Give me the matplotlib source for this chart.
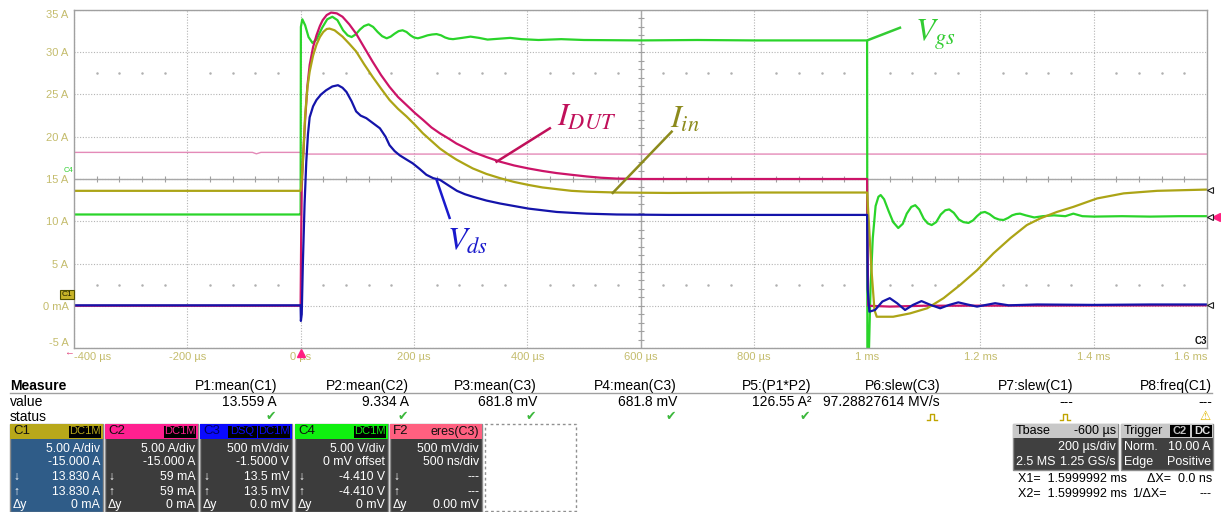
import matplotlib
matplotlib.use('Agg')
import matplotlib.pyplot as plt
from matplotlib.patches import Rectangle
from matplotlib.lines import Line2D
import numpy as np

# --- scope traces (time in us, vertical in screen units of the 5 A/div grid) ---
t_vgs = [-400, -2, 0, 0.5, 3, 8, 14, 21, 28, 38, 47, 56, 65, 75, 83, 90, 97, 105, 112,
         120, 128, 136, 144, 152, 159, 166, 173, 180, 187, 194, 200, 207, 215, 224, 232,
         240, 248, 255, 262, 269, 285, 300, 315, 330, 350, 370, 390, 420, 460, 500, 600,
         700, 800, 900, 1000, 1000.5, 1003, 1006, 1010, 1015, 1020, 1024, 1030, 1038,
         1046, 1055, 1063, 1070, 1078, 1085, 1092, 1100, 1107, 1114, 1122, 1130, 1138,
         1145, 1153, 1162, 1170, 1179, 1187, 1194, 1201, 1208, 1216, 1225, 1233, 1241,
         1249, 1256, 1263, 1270, 1280, 1295, 1310, 1330, 1350, 1364, 1380, 1400, 1450,
         1500, 1550, 1600]
v_vgs = [10.8, 10.8, 10.8, 33.0, 33.9, 33.2, 31.8, 31.1, 31.5, 32.9, 33.9, 34.2, 33.8,
         32.6, 32.0, 31.8, 32.1, 32.7, 33.1, 33.3, 33.0, 32.4, 31.9, 31.65, 31.85, 32.2,
         32.5, 32.6, 32.4, 32.0, 31.75, 31.65, 31.8, 32.0, 32.1, 32.15, 32.0, 31.75, 31.6,
         31.55, 31.7, 31.85, 31.7, 31.5, 31.6, 31.7, 31.55, 31.45, 31.55, 31.45, 31.4,
         31.45, 31.4, 31.4, 31.4, -6.0, -6.0, 2.0, 8.0, 11.8, 12.9, 13.1, 12.6, 11.2, 9.9,
         9.2, 9.7, 10.9, 11.7, 11.9, 11.4, 10.3, 9.75, 9.55, 9.9, 10.8, 11.3, 11.4, 11.0,
         10.2, 9.9, 9.8, 10.1, 10.6, 11.0, 11.1, 10.85, 10.4, 10.2, 10.15, 10.4, 10.7,
         10.85, 10.9, 10.7, 10.45, 10.6, 10.7, 10.6, 10.9, 10.6, 10.55, 10.6, 10.55, 10.6,
         10.6]

t_idut = [-400, 0, 1, 2, 4, 8, 12, 16, 22, 28, 34, 39, 46, 54, 64, 74, 86, 98, 112, 127,
          142, 157, 172, 187, 202, 216, 231, 246, 261, 275, 290, 304, 328, 352, 377, 402,
          427, 452, 478, 505, 530, 558, 600, 700, 800, 1000, 1001, 1002, 1040, 1100, 1600]
v_idut = [0.0, 0.0, 8.0, 14.0, 17.0, 22.0, 26.0, 28.5, 30.6, 32.0, 33.1, 33.8, 34.4, 34.7,
          34.6, 34.2, 33.3, 32.2, 30.6, 28.9, 27.3, 25.9, 24.7, 23.75, 22.8, 22.0, 21.1,
          20.4, 19.8, 19.2, 18.7, 18.2, 17.6, 17.05, 16.6, 16.25, 15.95, 15.7, 15.5, 15.3,
          15.15, 15.05, 15.0, 15.0, 15.0, 15.0, 6.0, 0.0, -0.1, 0.0, 0.05]

t_iin = [-400, 0, 1, 2, 4, 8, 12, 16, 22, 28, 34, 40, 46, 51, 60, 74, 86, 98, 112, 127,
         142, 157, 172, 187, 202, 216, 231, 246, 261, 275, 290, 304, 328, 352, 377, 402,
         427, 452, 478, 505, 558, 650, 800, 1000, 1003, 1008, 1013, 1017, 1046, 1076,
         1106, 1135, 1164, 1194, 1223, 1253, 1282, 1306, 1335, 1364, 1406, 1453, 1512, 1600]
v_iin = [13.6, 13.6, 14.0, 15.0, 17.0, 22.5, 25.8, 27.7, 29.6, 30.9, 31.8, 32.4, 32.75,
         32.8, 32.6, 31.85, 31.0, 30.1, 28.6, 27.1, 25.7, 24.35, 23.3, 22.4, 21.4, 20.4,
         19.5, 18.6, 17.9, 17.3, 16.75, 16.25, 15.6, 15.1, 14.65, 14.3, 14.0, 13.8, 13.6,
         13.5, 13.4, 13.35, 13.4, 13.4, 10.0, 4.0, -0.5, -1.3, -1.3, -0.9, -0.3, 0.9, 2.45,
         4.2, 6.2, 8.0, 9.55, 10.35, 11.1, 11.7, 12.7, 13.3, 13.6, 13.75]

t_vds = [-400, 0, 0.5, 2, 4, 7, 10, 13, 16, 22, 28, 36, 45, 56, 66, 74, 81, 90, 98, 106,
         116, 128, 140, 150, 157, 166, 175, 187, 198, 210, 222, 234, 246, 262, 276, 290,
         304, 328, 352, 377, 402, 427, 452, 478, 505, 558, 650, 800, 1000, 1001, 1004,
         1014, 1027, 1040, 1053, 1067, 1081, 1096, 1112, 1129, 1145, 1161, 1177, 1194,
         1210, 1226, 1250, 1300, 1400, 1500, 1600]
v_vds = [0.05, 0.05, -1.8, -1.0, 5.0, 12.0, 17.0, 20.3, 22.3, 23.6, 24.35, 25.0, 25.5,
         25.95, 26.1, 25.8, 25.3, 24.2, 23.0, 22.5, 22.2, 21.6, 21.0, 20.0, 19.0, 18.3,
         17.8, 17.3, 16.85, 16.2, 15.5, 15.1, 14.9, 14.2, 13.6, 13.2, 12.9, 12.45, 12.1,
         11.8, 11.5, 11.3, 11.1, 11.0, 10.9, 10.8, 10.75, 10.75, 10.75, 2.0, -0.7, -0.5,
         0.5, 0.9, 0.3, -0.5, 0.1, 0.55, 0.1, -0.3, 0.1, 0.4, 0.15, -0.1, 0.1, 0.3, 0.05,
         0.15, 0.1, 0.15, 0.15]

t_ref = [-400, -85, -78, -70, 0, 10, 1600]
v_ref = [18.15, 18.15, 17.98, 18.15, 18.15, 17.95, 17.95]

y_ticks = [-5, 0, 5, 10, 15, 20, 25, 30, 35]
y_labels = ['-5 A', '0 mA', '5 A', '10 A', '15 A', '20 A', '25 A', '30 A', '35 A']
x_ticks = [-400, -200, 0, 200, 400, 600, 800, 1000, 1200, 1400, 1600]
x_labels = ['-400 µs', '-200 µs', '0 µs', '200 µs', '400 µs', '600 µs', '800 µs',
            '1 ms', '1.2 ms', '1.4 ms', '1.6 ms']

# --- measurement table ---
meas_names = ['P1:mean(C1)', 'P2:mean(C2)', 'P3:mean(C3)', 'P4:mean(C3)',
              'P5:(P1*P2)', 'P6:slew(C3)', 'P7:slew(C1)', 'P8:freq(C1)']
meas_values = ['13.559 A', '9.334 A', '681.8 mV', '681.8 mV', '126.55 A²',
               '97.28827614 MV/s', '---', '---']
meas_status = ['ok', 'ok', 'ok', 'ok', 'ok', 'pulse', 'pulse', 'warn']

ch_names = ['C1', 'C2', 'C3', 'C4']
ch_rows = [['5.00 A/div', '-15.000 A', '13.830 A', '13.830 A', '0 mA'],
           ['5.00 A/div', '-15.000 A', '59 mA', '59 mA', '0 mA'],
           ['500 mV/div', '-1.5000 V', '13.5 mV', '13.5 mV', '0.0 mV'],
           ['5.00 V/div', '0 mV offset', '-4.410 V', '-4.410 V', '0 mV']]
f2_rows = ['500 mV/div', '500 ns/div', '---', '---', '0.00 mV']

W, H = 1221, 512
plt.rcParams['font.family'] = ['Liberation Sans', 'DejaVu Sans']
plt.rcParams['mathtext.fontset'] = 'stix'

fig = plt.figure(figsize=(W / 100, H / 100), dpi=100)
fig.patch.set_facecolor('white')


def fx(x):
    return x / W


def fy(y):
    return 1 - y / H


def ftext(x, y, s, **kw):
    kw.setdefault('fontsize', 8.8)
    kw.setdefault('va', 'center')
    fig.text(fx(x), fy(y), s, **kw)


def fbox(x0, y0, x1, y1, fc, ec='none', **kw):
    fig.add_artist(Rectangle((fx(x0), fy(y1)), fx(x1) - fx(x0), fy(y0) - fy(y1),
                             transform=fig.transFigure, fc=fc, ec=ec, **kw))


def fline(xs, ys, **kw):
    fig.add_artist(Line2D([fx(v) for v in xs], [fy(v) for v in ys],
                          transform=fig.transFigure, **kw))


# --- scope screen ---
ax = fig.add_axes([fx(74), fy(348), fx(1207) - fx(74), fy(10) - fy(348)])
ax.set_xlim(-400, 1600)
ax.set_ylim(-5, 35)
for s in ax.spines.values():
    s.set_color('#a0a0a0')
    s.set_linewidth(1)
ax.grid(True, ls=(0, (1, 1.5)), color='#b4b4b4', lw=0.8)
ax.axhline(15, color='#a8a8a8', lw=1)
ax.axvline(600, color='#a8a8a8', lw=1)
minor_t = [v for v in np.arange(-360, 1600, 40) if v % 200 != 0]
ax.plot(minor_t, [15] * len(minor_t), ls='none', marker='|', ms=5, color='#a0a0a0', mew=0.8)
ax.plot([600] * 39, np.arange(-4, 35, 1), ls='none', marker='_', ms=5, color='#a0a0a0', mew=0.8)
for yy in (27.5, 2.5):
    ax.plot(minor_t, [yy] * len(minor_t), ls='none', marker='.', ms=1.6, color='#b0b0b0')

ax.set_yticks(y_ticks)
ax.set_yticklabels(y_labels)
ax.set_xticks(x_ticks)
ax.set_xticklabels(x_labels)
ax.tick_params(length=0, labelsize=8, colors='#c4bc6c', pad=4)
ax.tick_params(axis='x', pad=3)
ylab = ax.get_yticklabels()
ylab[0].set_va('bottom')
ylab[-1].set_va('top')
xlab = ax.get_xticklabels()
xlab[0].set_ha('left')
xlab[-1].set_ha('right')

ax.plot(t_ref, v_ref, color='#e48ab8', lw=1)
ax.plot(t_vgs, v_vgs, color='#2ad42a', lw=1.6)
ax.plot(t_idut, v_idut, color='#cc1468', lw=1.6)
ax.plot(t_iin, v_iin, color='#aca416', lw=1.6)
ax.plot(t_vds, v_vds, color='#1414aa', lw=1.6)

# trace labels
ax.plot([1002, 1058], [31.45, 32.9], color='#33cc33', lw=1.8)
ax.text(1085, 31.4, r'$V_{gs}$', color='#33cc33', fontsize=23, ha='left', va='baseline')
ax.plot([346, 440], [17.05, 21.0], color='#c0105a', lw=1.8)
ax.text(452, 21.4, r'$I_{DUT}$', color='#c0105a', fontsize=23, ha='left', va='baseline')
ax.plot([551, 655], [13.35, 20.6], color='#8c8a1c', lw=1.8)
ax.text(652, 21.0, r'$I_{in}$', color='#8c8a1c', fontsize=23, ha='left', va='baseline')
ax.plot([240, 263], [14.9, 10.4], color='#1a1acc', lw=1.8)
ax.text(258, 6.6, r'$V_{ds}$', color='#1a1acc', fontsize=23, ha='left', va='baseline')

# screen markers
fbox(60, 290, 74, 299, '#c8b428', ec='#505000', lw=0.8)
ftext(67, 294.5, 'C1', fontsize=6, ha='center', color='#202000')
ftext(69, 171, 'C4', fontsize=5.5, ha='center', color='#30d030')
ftext(69, 352, '←', fontsize=7, ha='center', color='#e0407a')
fig.add_artist(Line2D([fx(301)], [fy(353)], transform=fig.transFigure, marker='^',
                      ms=6, color='#ff2080', ls='none'))
fig.add_artist(Line2D([fx(1216)], [fy(217)], transform=fig.transFigure, marker='<',
                      ms=6, color='#ff2080', ls='none'))
for yy in (190, 217, 305):
    fig.add_artist(Line2D([fx(1210)], [fy(yy)], transform=fig.transFigure, marker='<',
                          ms=5, mfc='white', mec='#202020', mew=0.8, ls='none'))
ftext(1201, 341, 'C3', fontsize=7, ha='center', weight='bold', color='#101010')

# --- measurement rows ---
right_edges = [277, 409, 537, 677, 811, 940, 1073, 1212]
ftext(10, 386, 'Measure', fontsize=10, weight='bold', ha='left')
ftext(10, 402, 'value', fontsize=10, ha='left')
ftext(10, 417, 'status', fontsize=10, ha='left')
fline([10, 1212], [393, 393], color='#a0a0a0', lw=1)
for xr, name, val, st in zip(right_edges, meas_names, meas_values, meas_status):
    ftext(xr, 386, name, fontsize=10, ha='right')
    ftext(xr, 402, val, fontsize=10, ha='right')
    if st == 'ok':
        ftext(xr - 1, 417, '✔', fontsize=9, ha='right', color='#3cb83c')
    elif st == 'pulse':
        fline([xr - 13, xr - 10, xr - 10, xr - 6, xr - 6, xr - 3],
              [420, 420, 414, 414, 420, 420], color='#c0a400', lw=1)
    else:
        ftext(xr - 1, 417, '⚠', fontsize=9, ha='right', color='#e0b800')

# --- channel boxes ---
ch_x = [(10, 103), (105, 198), (200, 292), (295, 388)]
ch_head = ['#b8a81a', '#ff2090', '#0a0aff', '#10f010']
ch_body = ['#2f5c88', '#3c3c3c', '#3c3c3c', '#3c3c3c']
row_y = [449, 462, 477, 492, 505]
marks = ['', '', '↓', '↑', 'Δy']
for (x0, x1), name, hc, bc, rows in zip(ch_x, ch_names, ch_head, ch_body, ch_rows):
    fbox(x0, 424, x1, 512, bc, ec='#8c8c8c', lw=1)
    fbox(x0, 424, x1, 439, hc)
    ftext(x0 + 3, 431.5, name, fontsize=9.5, ha='left',
          color='#000060' if name == 'C3' else '#101010')
    if name == 'C3':
        fbox(x1 - 64, 426, x1 - 35, 437.5, '#000000')
        ftext(x1 - 49.5, 431.5, 'DSQ', fontsize=8, ha='center', color=hc)
    fbox(x1 - 34, 426, x1 - 2, 437.5, '#000000')
    ftext(x1 - 18, 431.5, 'DC1M', fontsize=8, ha='center', color=hc)
    for yy, m, txt in zip(row_y, marks, rows):
        if m:
            ftext(x0 + 3, yy, m, fontsize=8.8, ha='left', color='white')
        ftext(x1 - 3, yy, txt, fontsize=8.8, ha='right', color='white')

# math channel F2
fbox(390, 424, 482, 512, '#3c3c3c', ec='#8c8c8c', lw=1)
fbox(390, 424, 482, 439, '#ff6080')
ftext(393, 431.5, 'F2', fontsize=9.5, ha='left', color='#101010')
ftext(479, 431.5, 'eres(C3)', fontsize=9, ha='right', color='#101010')
for yy, m, txt in zip(row_y, marks, f2_rows):
    if m:
        ftext(393, yy, m, fontsize=8.8, ha='left', color='white')
    ftext(479, yy, txt, fontsize=8.8, ha='right', color='white')
fbox(485, 424, 576, 511, 'none', ec='#909090', lw=1, ls=(0, (2, 2)))

# timebase / trigger
fbox(1013, 424, 1118, 470, '#404040', ec='#8c8c8c', lw=1)
fbox(1013, 424, 1118, 438, '#c8c8c8')
ftext(1016, 431, 'Tbase', fontsize=9, ha='left')
ftext(1116, 431, '-600 µs', fontsize=9, ha='right')
ftext(1116, 447, '200 µs/div', fontsize=9, ha='right', color='white')
ftext(1016, 462, '2.5 MS', fontsize=9, ha='left', color='white')
ftext(1116, 462, '1.25 GS/s', fontsize=9, ha='right', color='white')

fbox(1121, 424, 1213, 470, '#404040', ec='#8c8c8c', lw=1)
fbox(1121, 424, 1213, 438, '#c8c8c8')
ftext(1124, 431, 'Trigger', fontsize=9, ha='left')
fbox(1170, 425, 1190, 437, '#000000')
ftext(1180, 431, 'C2', fontsize=8, ha='center', color='#c0c0c0', weight='bold')
fbox(1192, 425, 1212, 437, '#000000')
ftext(1202, 431, 'DC', fontsize=8, ha='center', color='#e0e0e0', weight='bold')
ftext(1124, 447, 'Norm.', fontsize=9, ha='left', color='white')
ftext(1211, 447, '10.00 A', fontsize=9, ha='right', color='white')
ftext(1124, 462, 'Edge', fontsize=9, ha='left', color='white')
ftext(1211, 462, 'Positive', fontsize=9, ha='right', color='white')

ftext(1018, 479, 'X1=  1.5999992 ms', fontsize=9, ha='left')
ftext(1212, 479, 'ΔX=  0.0 ns', fontsize=9, ha='right')
ftext(1018, 494, 'X2=  1.5999992 ms', fontsize=9, ha='left')
ftext(1132, 494, '1/ΔX=', fontsize=9, ha='left')
ftext(1212, 494, '---', fontsize=9, ha='right')

fig.savefig('out.png', dpi=100)
